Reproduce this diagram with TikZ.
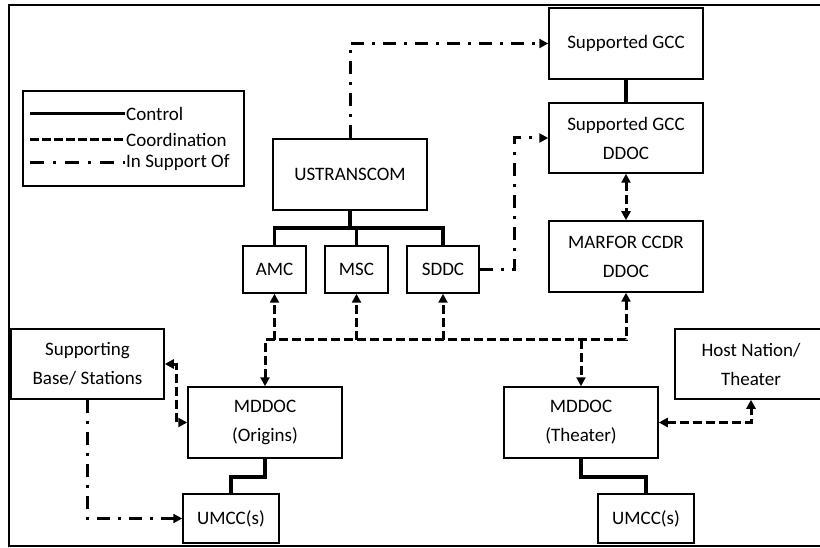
\documentclass[tikz,border=0pt]{standalone}
\usepackage{fontspec}
\setmainfont{Carlito}
\usetikzlibrary{arrows.meta}

\tikzset{
  box/.style={draw,line width=1.5pt,inner sep=0pt,align=center,
    font=\fontsize{19}{29}\selectfont},
  ctrl/.style={line width=3.5pt},
  coord/.style={line width=3pt,dash pattern=on 9pt off 4pt},
  supp/.style={line width=3pt,dash pattern=on 13pt off 8pt on 3pt off 8pt},
  tip/.style={arrows={-Triangle[length=9pt,width=9pt]}},
  tips/.style={arrows={Triangle[length=9pt,width=9pt]-Triangle[length=9pt,width=9pt]}}
}

\begin{document}
\begin{tikzpicture}[x=1pt,y=-1pt]
   \useasboundingbox (0,0) rectangle (820,548);
   \clip (0,0) rectangle (820,548);
   \draw[line width=2pt] (9,5) rectangle (840,546);
   % legend
   \draw[line width=1.5pt] (23,91) rectangle (244,186);
   \draw[line width=3pt] (30,114) -- (125,114);
   \draw[line width=3pt,dash pattern=on 9pt off 3pt] (30,140) -- (125,140);
   \draw[line width=3pt,dash pattern=on 14pt off 9pt on 3pt off 9pt] (30,163) -- (125,163);
   \node[anchor=west,inner sep=1pt,font=\fontsize{19}{23}\selectfont] (lgctrl) at (125,114) {Control};
   \node[anchor=west,inner sep=1pt,font=\fontsize{19}{23}\selectfont] (lgcoord) at (125,140) {Coordination};
   \node[anchor=west,inner sep=1pt,font=\fontsize{19}{23}\selectfont] (lgsupp) at (125,163) {In Support Of};
   % boxes
   \node[box,minimum width=154pt,minimum height=71pt] (sgcc) at (626,43.5) {Supported GCC};
   \node[box,minimum width=154pt,minimum height=70pt] (sgccddoc) at (626,138) {Supported GCC\\DDOC};
   \node[box,minimum width=154pt,minimum height=71pt] (marfor) at (626,256.5) {MARFOR CCDR\\DDOC};
   \node[box,minimum width=154pt,minimum height=71pt] (ustc) at (350,174.5) {USTRANSCOM};
   \node[box,minimum width=63pt,minimum height=47pt] (amc) at (274.5,269.5) {AMC};
   \node[box,minimum width=63pt,minimum height=47pt] (msc) at (356.5,269.5) {MSC};
   \node[box,minimum width=72pt,minimum height=47pt] (sddc) at (443,269.5) {SDDC};
   \node[box,minimum width=153pt,minimum height=70pt] (sbase) at (87.5,364) {Supporting\\Base/ Stations};
   \node[box,minimum width=152pt,minimum height=70pt] (host) at (751,364) {Host Nation/\\Theater};
   \node[box,minimum width=154pt,minimum height=71pt] (mddocO) at (265,422.5) {MDDOC\\(Origins)};
   \node[box,minimum width=154pt,minimum height=71pt] (mddocT) at (581,422.5) {MDDOC\\(Theater)};
   \node[box,minimum width=96pt,minimum height=49pt] (umccO) at (231,518.5) {UMCC(s)};
   \node[box,minimum width=96pt,minimum height=49pt] (umccT) at (646,518.5) {UMCC(s)};
   \coordinate (cbus) at (350,228);
   \coordinate (cobus) at (400,340);
   \coordinate (lowbus) at (400,477);
   \coordinate (sddcturn) at (514,267);
   \coordinate (sbturn) at (176,364);
   % control
   \draw[ctrl] (sgcc.south) -- (sgccddoc.north);
   \draw[ctrl] (ustc.south) -- (cbus);
   \draw[ctrl] (amc.north) |- (cbus) -| (sddc.north);
   \draw[ctrl] (msc.north) -- (msc.north |- cbus);
   \draw[ctrl] (mddocO.south) -- (mddocO.south |- lowbus) -| (umccO.north);
   \draw[ctrl] (mddocT.south) -- (mddocT.south |- lowbus) -| (umccT.north);
   % coordination
   \draw[coord,tips] (sgccddoc.south) -- (marfor.north);
   \draw[coord,tips] (mddocO.north) |- (cobus) -| (marfor.south);
   \draw[coord,tip] (amc.south |- cobus) -- (amc.south);
   \draw[coord,tip] (msc.south |- cobus) -- (msc.south);
   \draw[coord,tip] (sddc.south |- cobus) -- (sddc.south);
   \draw[coord,tip] (mddocT.north |- cobus) -- (mddocT.north);
   \draw[coord,tips] (sbase.east) -- (sbturn) |- (mddocO.west);
   \draw[coord,tips] (mddocT.east) -| (host.south);
   % in support of
   \draw[supp,tip] (ustc.north) |- (sgcc.west);
   \draw[supp,tip] (sddc.east) -- (sddc.east -| sddcturn) |- (sgccddoc.west);
   \draw[supp,tip] (sbase.south) |- (umccO.west);
\end{tikzpicture}
\end{document}
